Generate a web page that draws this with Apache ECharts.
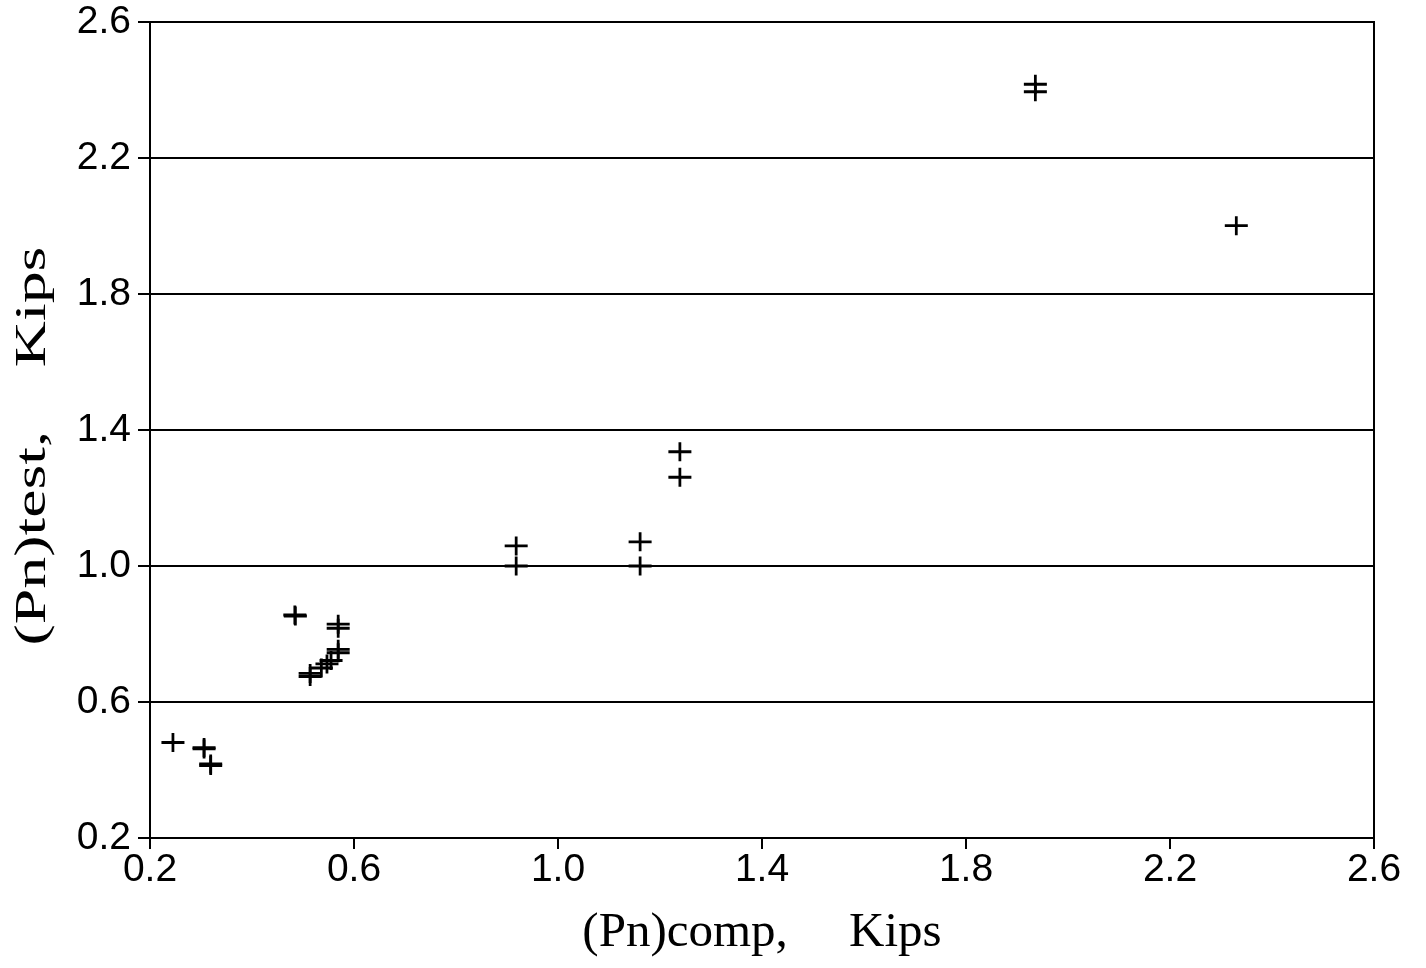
<!DOCTYPE html>
<html>
<head>
<meta charset="utf-8">
<script src="https://cdn.jsdelivr.net/npm/echarts@6/dist/echarts.min.js"></script>
<style>
html, body { margin: 0; padding: 0; background: #fff; }
#chart { width: 1426px; height: 968px; }
</style>
</head>
<body>
<div id="chart"></div>
<script>
// values
const pnComp = [
  0.245, 0.306, 0.306, 0.319, 0.319,
  0.484, 0.485, 0.514, 0.514, 0.536, 0.547, 0.555,
  0.569, 0.569, 0.569, 0.569,
  0.918, 0.918, 1.161, 1.161, 1.239, 1.239,
  1.936, 1.936, 2.330
]
const pnTest = [
  0.481, 0.466, 0.462, 0.418, 0.413,
  0.856, 0.853, 0.684, 0.675, 0.700, 0.712, 0.722,
  0.745, 0.755, 0.817, 0.829,
  1.059, 1.000, 1.071, 1.000, 1.336, 1.261,
  2.417, 2.395, 2.001
]
const xTicks = [0.2, 0.6, 1.0, 1.4, 1.8, 2.2, 2.6]
const yTicks = [0.2, 0.6, 1.0, 1.4, 1.8, 2.2, 2.6]

const points = pnComp.map((x, i) => [x, pnTest[i]])
const plus = 'path://M0,4.25H10V5.75H0Z M4.4,0H5.6V10H4.4Z'

const chart = echarts.init(document.getElementById('chart'))
const option = {
  animation: false,
  backgroundColor: '#fff',
  grid: {
    left: 150,
    right: 52,
    top: 22,
    bottom: 130,
    show: true,
    borderColor: '#000',
    borderWidth: 2
  },
  xAxis: {
    type: 'value',
    min: xTicks[0],
    max: xTicks[xTicks.length - 1],
    interval: 0.4,
    name: '(Pn)comp,     Kips',
    nameLocation: 'middle',
    nameGap: 71,
    nameTextStyle: {
      fontFamily: 'Liberation Serif',
      fontSize: 49,
      color: '#000'
    },
    axisLine: { lineStyle: { color: '#000', width: 2 } },
    axisTick: { show: true, length: 11, lineStyle: { color: '#000', width: 2 } },
    axisLabel: {
      margin: 13,
      fontFamily: 'Liberation Sans',
      fontSize: 39,
      color: '#000',
      formatter: v => v.toFixed(1)
    },
    splitLine: { show: false }
  },
  yAxis: {
    type: 'value',
    min: yTicks[0],
    max: yTicks[yTicks.length - 1],
    interval: 0.4,
    axisLine: { lineStyle: { color: '#000', width: 2 } },
    axisTick: { show: true, length: 12, lineStyle: { color: '#000', width: 2 } },
    axisLabel: {
      margin: 19,
      fontFamily: 'Liberation Sans',
      fontSize: 39,
      color: '#000',
      formatter: v => v.toFixed(1)
    },
    splitLine: { show: true, lineStyle: { color: '#000', width: 2 } }
  },
  graphic: [{
    type: 'text',
    x: 33,
    y: 446,
    rotation: Math.PI / 2,
    scaleX: 1.45,
    style: {
      text: '(Pn)test,    Kips',
      font: '44px "Liberation Serif"',
      fill: '#000',
      align: 'center',
      verticalAlign: 'middle'
    }
  }],
  series: [{
    type: 'scatter',
    symbol: plus,
    symbolSize: [23, 19],
    itemStyle: { color: '#000', opacity: 1 },
    data: points
  }]
}
chart.setOption(option)
</script>
</body>
</html>
